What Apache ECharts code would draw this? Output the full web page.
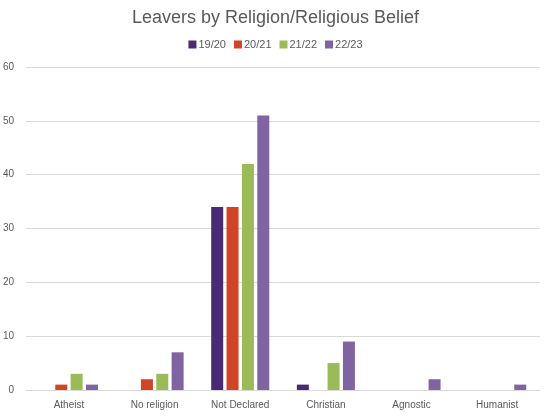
<!DOCTYPE html>
<html>
<head>
<meta charset="utf-8">
<script src="https://cdn.jsdelivr.net/npm/echarts@6/dist/echarts.min.js"></script>
<style>
  html, body { margin: 0; padding: 0; background: #fff; }
  #chart { width: 551px; height: 416px; }
</style>
</head>
<body>
<div id="chart"></div>
<script>
const categories = ['Atheist', 'No religion', 'Not Declared', 'Christian', 'Agnostic', 'Humanist']
const seriesNames = ['19/20', '20/21', '21/22', '22/23']
const y1920 = [0, 0, 34, 1, 0, 0]
const y2021 = [1, 2, 34, 0, 0, 0]
const y2122 = [3, 3, 42, 5, 0, 0]
const y2223 = [1, 7, 51, 9, 2, 1]
const colors = ['#472C74', '#D04427', '#9BBB59', '#8064A2']

let chart = echarts.init(document.getElementById('chart'))
let values = [y1920, y2021, y2122, y2223]

let option = {
  animation: false,
  textStyle: { fontFamily: 'Liberation Sans, Arial, sans-serif' },
  title: {
    text: 'Leavers by Religion/Religious Belief',
    left: 'center',
    top: 4,
    textStyle: { fontSize: 18, fontWeight: 'normal', color: '#595959' },
  },
  legend: {
    top: 34,
    left: 'center',
    itemWidth: 8,
    itemHeight: 8,
    itemGap: 8,
    icon: 'rect',
    textStyle: { fontSize: 11, color: '#595959', padding: [0, 0, 0, -3] },
    data: seriesNames,
  },
  grid: {
    left: 25,
    right: 11,
    top: 67,
    bottom: 26,
  },
  xAxis: {
    type: 'category',
    data: categories,
    axisLine: { show: true, lineStyle: { color: '#D9D9D9' } },
    axisTick: { show: false },
    axisLabel: { color: '#595959', fontSize: 10, margin: 10 },
  },
  yAxis: {
    type: 'value',
    min: 0,
    max: 60,
    interval: 10,
    axisLine: { show: false },
    axisTick: { show: false },
    axisLabel: { color: '#595959', fontSize: 10, margin: 12 },
    splitLine: { lineStyle: { color: '#D9D9D9' } },
  },
  series: seriesNames.map((name, i) => ({
    name,
    type: 'bar',
    barWidth: 12,
    barGap: '28%',
    itemStyle: { color: colors[i] },
    data: values[i],
  })),
}

chart.setOption(option)
</script>
</body>
</html>
